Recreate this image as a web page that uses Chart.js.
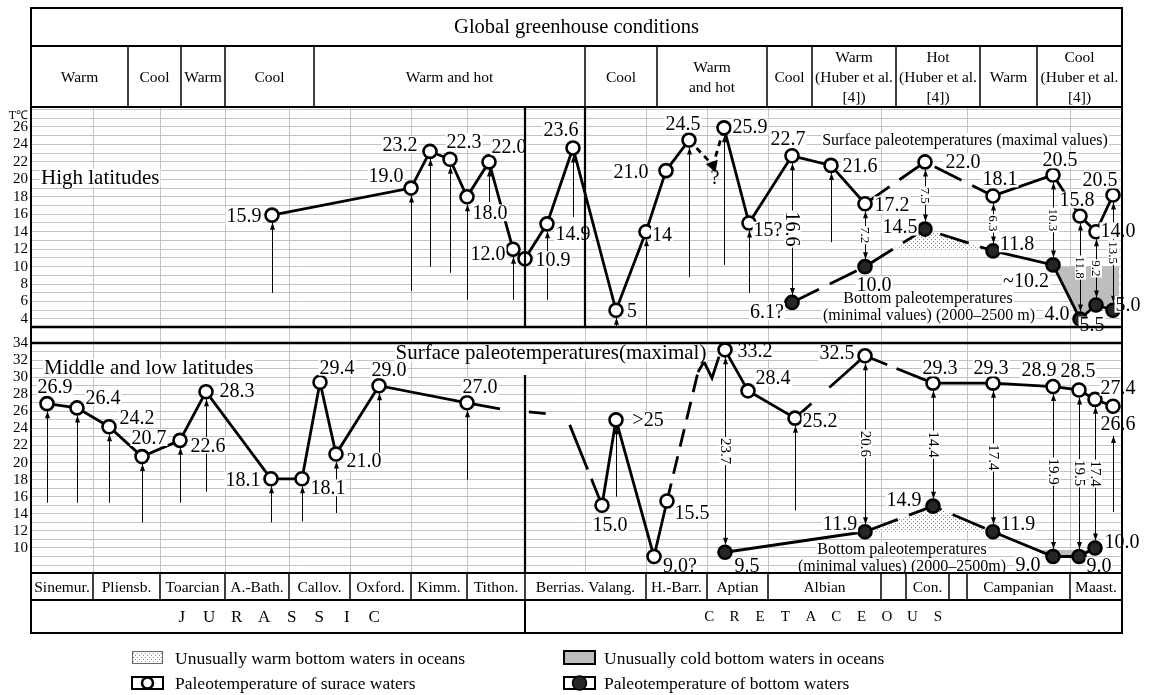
<!DOCTYPE html>
<html>
<head>
<meta charset="utf-8">
<script src="https://cdn.jsdelivr.net/npm/chart.js@4.4.1/dist/chart.umd.min.js"></script>
<style>
  html, body { margin: 0; padding: 0; background: #fff; }
  #wrap { width: 1153px; height: 695px; position: relative; }
</style>
</head>
<body>
<div id="wrap"><canvas id="chart"></canvas></div>
<script>
// positions along the stratigraphic column (left to right), shared by all series
var stageEdges = [31, 93, 160, 225, 289, 350, 411, 467, 525, 646, 707, 768, 881, 906, 949, 967, 1070, 1122];
var stageNames = ["Sinemur.", "Pliensb.", "Toarcian", "A.-Bath.", "Callov.", "Oxford.", "Kimm.", "Tithon.",
  "Berrias. Valang.", "H.-Barr.", "Aptian", "Albian", "", "Con.", "", "Campanian", "Maast."];
var gridX = [93, 160, 225, 289, 350, 411, 467, 585, 646, 707, 768, 881, 967, 1070];
var periodEdges = [31, 525, 1122];
var periodNames = ["JURASSIC", "CRETACEOUS"];
var condEdges = [31, 128, 181, 225, 314, 585, 657, 767, 812, 896, 980, 1037, 1122];
var condNames = ["Warm", "Cool", "Warm", "Cool", "Warm and hot", "Cool", "Warm\nand hot", "Cool",
  "Warm\n(Huber et al.\n[4])", "Hot\n(Huber et al.\n[4])", "Warm", "Cool\n(Huber et al.\n[4])"];

// high latitudes
var hiSurfX = [272, 411, 430, 450, 467, 489, 513, 525, 547, 573, 616, 646, 666, 689, 724, 749, 792, 831, 865, 925, 993, 1053, 1080, 1096, 1113];
var hiSurfT = [15.9, 19.0, 23.2, 22.3, 18.0, 22.0, 12.0, 10.9, 14.9, 23.6, 5, 14, 21.0, 24.5, 25.9, 15, 22.7, 21.6, 17.2, 22.0, 18.1, 20.5, 15.8, 14.0, 18.2];
var hiSurfLbl = ["15.9", "19.0", "23.2", "22.3", "18.0", "22.0", "12.0", "10.9", "14.9", "23.6", "5", "14", "21.0", "24.5", "25.9", "15?", "22.7", "21.6", "17.2", "22.0", "18.1", "20.5", "15.8", "14.0", "20.5"];
var hiBotX = [792, 865, 925, 993, 1053, 1080, 1096, 1113];
var hiBotT = [5.9, 10.0, 14.3, 11.8, 10.2, 4.0, 5.6, 5.0];
var hiBotLbl = ["6.1?", "10.0", "14.5", "11.8", "~10.2", "4.0", "5.5", "5.0"];
var hiQueryX = [689, 713, 724];
var hiQueryT = [24.5, 21.6, 25.9];
var hiDiffX = [792, 865, 925, 993, 1053, 1080, 1096, 1113];
var hiDiffLbl = ["16.6", "7.2", "7.5", "6.3", "10.3", "11.8", "9.2", "13.5"];
var hiRangeX = [272, 411, 430, 450, 467, 489, 513, 547, 573, 616, 646, 689, 724, 749, 831];
var hiRangeLo = [7.0, 7.2, 10.0, 9.3, 6.2, 17.4, 6.2, 6.2, 15.7, 3.1, 3.1, 8.8, 10.2, 7.0, 12.8];
var hiRangeHi = [15.9, 19.0, 23.2, 22.3, 18.0, 22.0, 12.0, 14.9, 23.6, 5, 14, 24.5, 25.9, 15, 21.6];
var hiWarmX = [893, 925, 993];
var hiWarmT = [12.0, 14.3, 11.8];
var hiColdX = [1055, 1080, 1096, 1113, 1119];
var hiColdT = [10.0, 4.0, 5.6, 5.0, 5.0];

// middle and low latitudes
var midSurfX = [47, 77, 109, 142, 180, 206, 271, 302, 320, 336, 379, 467, 602, 616, 654, 667, 725, 748, 795, 865, 933, 993, 1053, 1079, 1095, 1113];
var midSurfT = [26.9, 26.4, 24.2, 20.7, 22.6, 28.3, 18.1, 18.1, 29.4, 21.0, 29.0, 27.0, 15.0, 25, 9.0, 15.5, 33.2, 28.4, 25.2, 32.5, 29.3, 29.3, 28.9, 28.5, 27.4, 26.6];
var midSurfLbl = ["26.9", "26.4", "24.2", "20.7", "22.6", "28.3", "18.1", "18.1", "29.4", "21.0", "29.0", "27.0", "15.0", ">25", "9.0?", "15.5", "33.2", "28.4", "25.2", "32.5", "29.3", "29.3", "28.9", "28.5", "27.4", "26.6"];
var midBotX = [725, 865, 933, 993, 1053, 1079, 1095];
var midBotT = [9.5, 11.9, 14.9, 11.9, 9.0, 9.0, 10.0];
var midBotLbl = ["9.5", "11.9", "14.9", "11.9", "9.0", "9.0", "10.0"];
var midLinkAX = [467, 500, 548, 566, 602];
var midLinkAT = [27.0, 26.3, 25.7, 25.5, 15.0];
var midLinkBX = [667, 698, 704, 712, 719];
var midLinkBT = [15.5, 30.6, 31.8, 29.9, 32.4];
var midDiffX = [725, 865, 933, 993, 1053, 1079, 1095];
var midDiffLbl = ["23.7", "20.6", "14.4", "17.4", "19.9", "19.5", "17.4"];
var midRangeX = [47, 77, 109, 142, 180, 206, 271, 302, 336, 379, 467, 616, 795, 1113];
var midRangeLo = [15.3, 15.3, 15.3, 13.0, 15.3, 16.6, 13.0, 13.1, 14.1, 20.9, 18.0, 16.0, 14.4, 14.2];
var midRangeHi = [26.9, 26.4, 24.2, 20.7, 22.6, 28.3, 18.1, 18.1, 21.0, 29.0, 27.0, 25, 25.2, 24.0];
var midWarmX = [865, 933, 993];
var midWarmT = [11.9, 14.9, 11.9];
var midColdX = [1037, 1053, 1079, 1091];
var midColdT = [9.76, 9.0, 9.0, 9.76];

// line styles per segment: s solid, d dashed, n hidden, or an explicit dash array
var hiSurfSeg = ["s","s","s","s","s","s","s","s","s","s","s","s","s","n","s","s","s","s","d","d","s","s","s","s"];
var hiBotSeg = ["d","d","d","s","s","s","s"];
var midSurfSeg = ["s","s","s","s","s","s","s","s","s","s","s","n","s","s","s","n","s","s",[22,24,100],[24,10,100],"s","s","s","s","s"];
var midBotSeg = ["s","d","d","s","s","s"];
var midLinkASeg = ["s", [0,29,17,100], "n", [0,10,48,10,100]];
var midLinkBSeg = [[18,10], "s", "s", "s"];

// label offsets (pixels from the marker)
var hiSurfOff = [[-28,1],[-25,-12],[-30,-7],[14,-18],[23,16],[20,-15],[-25,5],[28,1],[26,10],[-12,-18],[16,0],[16,3],[-35,1],[-6,-16],[26,-1],[19,7],[-4,-17],[29,0],[27,1],[38,0],[7,-17],[7,-15],[-3,-16],[22,-1],[-13,-15]];
var hiBotOff = [[-25,9],[9,18],[-25,-2],[24,-7],[-27,16],[-23,-5],[-4,20],[15,-6]];
var midSurfOff = [[8,-17],[26,-10],[28,-9],[7,-19],[28,5],[31,-1],[-28,1],[26,9],[17,-15],[28,7],[10,-16],[13,-16],[8,19],[32,0],[26,9],[25,12],[30,1],[25,-13],[25,3],[-28,-3],[7,-15],[-2,-15],[-14,-17],[-1,-19],[23,-12],[5,18]];
var midBotOff = [[22,14],[-25,-8],[-29,-6],[25,-8],[-25,8],[20,9],[27,-6]];
var hiDiffSize = [20, 13, 13, 13, 13, 13, 13, 13];

var SERIF = "'Liberation Serif', 'Times New Roman', serif";
var INK = "#000";
var GRID = "#c4c4c4";
var hiFloor = 3.08;
var R_PT = 6.5;

var ctx = document.getElementById("chart").getContext("2d");
Chart.defaults.font.family = SERIF;
Chart.defaults.color = INK;

function pts(xs, ys) {
  return xs.map(function (x, i) { return { x: x, y: ys[i] }; });
}

function segOpts(codes, dash) {
  return {
    borderColor: function (c) { return codes[c.p0DataIndex] === "n" ? "rgba(0,0,0,0)" : INK; },
    borderDash: function (c) {
      var k = codes[c.p0DataIndex];
      if (Array.isArray(k)) return k;
      return k === "d" ? dash : [];
    }
  };
}

function markSet(xs, ys, axis, codes, dash, fillCol) {
  return {
    data: pts(xs, ys), yAxisID: axis, borderColor: INK, borderWidth: 2.8,
    pointRadius: R_PT, pointHoverRadius: R_PT, pointBorderWidth: 2.6, pointBorderColor: INK,
    pointBackgroundColor: fillCol, fill: false, tension: 0, order: 0,
    segment: segOpts(codes, dash)
  };
}

function linkSet(xs, ys, axis, codes) {
  return {
    data: pts(xs, ys), yAxisID: axis, borderColor: INK, borderWidth: 2.8,
    pointRadius: 0, fill: false, tension: 0, order: 1, segment: segOpts(codes, [16, 12])
  };
}

function bandSet(xs, ys, axis, base, bg) {
  return {
    data: pts(xs, ys), yAxisID: axis, borderColor: "rgba(0,0,0,0)", borderWidth: 0,
    pointRadius: 0, fill: { value: base }, backgroundColor: bg, tension: 0, order: 2
  };
}

function stipple() {
  var cv = document.createElement("canvas");
  cv.width = 4; cv.height = 4;
  var g = cv.getContext("2d");
  g.fillStyle = "#fff"; g.fillRect(0, 0, 4, 4);
  g.fillStyle = "#8a8a8a"; g.fillRect(1, 1, 1, 1); g.fillRect(3, 3, 1, 1);
  return ctx.createPattern(cv, "repeat");
}
var dots = stipple();
var COLD = "#bdbdbd";

var queryLink = linkSet(hiQueryX, hiQueryT, "yHi", ["x", "x"]);
queryLink.segment = { borderDash: function () { return [6, 5]; } };
queryLink.pointRadius = [0, 4.5, 0];
queryLink.pointStyle = "triangle";
queryLink.pointRotation = [0, 160, 0];
queryLink.pointBackgroundColor = INK;
queryLink.pointBorderColor = INK;

function text(c, s, x, y, size, align, bg, rot) {
  c.save();
  c.font = size + "px " + SERIF;
  c.textAlign = align || "center";
  c.textBaseline = "middle";
  c.translate(x, y);
  if (rot) c.rotate(rot);
  var w = c.measureText(s).width;
  if (bg) {
    var x0 = align === "left" ? 0 : (align === "right" ? -w : -w / 2);
    c.fillStyle = "#fff";
    c.fillRect(x0 - 1, -size * 0.42, w + 2, size * 0.84);
  }
  c.fillStyle = INK;
  c.fillText(s, 0, 1);
  c.restore();
}

function head(c, x, y, dir) {
  c.beginPath();
  c.moveTo(x, y);
  c.lineTo(x - 2.5, y - dir * 7);
  c.lineTo(x + 2.5, y - dir * 7);
  c.closePath();
  c.fill();
}

function valAt(xs, ys, x) { return ys[xs.indexOf(x)]; }

function drawRanges(c, X, Y, xs, lo, hi) {
  c.save();
  c.strokeStyle = INK; c.fillStyle = INK; c.lineWidth = 1;
  for (var i = 0; i < xs.length; i++) {
    var px = Math.round(X.getPixelForValue(xs[i])) + 0.5;
    var yt = Y.getPixelForValue(hi[i]) + R_PT + 1;
    var yb = Y.getPixelForValue(lo[i]);
    c.beginPath(); c.moveTo(px, yb); c.lineTo(px, yt); c.stroke();
    head(c, px, yt, -1);
  }
  c.restore();
}

function drawDiffs(c, X, Y, xs, sx, st, bx, bt, lbl, size) {
  c.save();
  c.strokeStyle = INK; c.fillStyle = INK; c.lineWidth = 1;
  for (var i = 0; i < xs.length; i++) {
    var px = Math.round(X.getPixelForValue(xs[i])) + 0.5;
    var yt = Y.getPixelForValue(valAt(sx, st, xs[i])) + R_PT + 1;
    var yb = Y.getPixelForValue(valAt(bx, bt, xs[i])) - R_PT - 1;
    c.beginPath(); c.moveTo(px, yt); c.lineTo(px, yb); c.stroke();
    head(c, px, yt, -1);
    head(c, px, yb, 1);
    var sz = Array.isArray(size) ? size[i] : size;
    text(c, lbl[i], px, (yt + yb) / 2, sz, "center", true, Math.PI / 2);
  }
  c.restore();
}

function pointLabels(c, X, Y, xs, ys, lbl, off, size) {
  for (var i = 0; i < xs.length; i++) {
    var px = X.getPixelForValue(xs[i]);
    var py = Y.getPixelForValue(ys[i]);
    text(c, lbl[i], px + off[i][0], py + off[i][1], size, "center", true);
  }
}

function spaced(c, s, cx, y, size, step) {
  var n = s.length;
  for (var i = 0; i < n; i++) {
    text(c, s[i], cx + (i - (n - 1) / 2) * step, y, size, "center", false);
  }
}

function hline(c, x0, x1, y, w) {
  c.lineWidth = w; c.beginPath(); c.moveTo(x0, y); c.lineTo(x1, y); c.stroke();
}
function vline(c, x, y0, y1, w) {
  c.lineWidth = w; c.beginPath(); c.moveTo(x, y0); c.lineTo(x, y1); c.stroke();
}

var figure = {
  id: "figure",
  afterDatasetsDraw: function (chart) {
    var c = chart.ctx, X = chart.scales.x, H = chart.scales.yHi, M = chart.scales.yMid;
    drawRanges(c, X, H, hiRangeX, hiRangeLo, hiRangeHi);
    drawRanges(c, X, M, midRangeX, midRangeLo, midRangeHi);
    drawDiffs(c, X, H, hiDiffX, hiSurfX, hiSurfT, hiBotX, hiBotT, hiDiffLbl, hiDiffSize);
    drawDiffs(c, X, M, midDiffX, midSurfX, midSurfT, midBotX, midBotT, midDiffLbl, 15);

    pointLabels(c, X, H, hiSurfX, hiSurfT, hiSurfLbl, hiSurfOff, 20);
    pointLabels(c, X, H, hiBotX, hiBotT, hiBotLbl, hiBotOff, 20);
    pointLabels(c, X, M, midSurfX, midSurfT, midSurfLbl, midSurfOff, 20);
    pointLabels(c, X, M, midBotX, midBotT, midBotLbl, midBotOff, 20);

    text(c, "?", X.getPixelForValue(715), H.getPixelForValue(20.2), 20, "center", false);
    text(c, "High latitudes", X.getPixelForValue(41), H.getPixelForValue(20.2), 21, "left", true);
    text(c, "Surface paleotemperatures (maximal values)", X.getPixelForValue(965), H.getPixelForValue(24.5), 16, "center", true);
    text(c, "Bottom paleotemperatures", X.getPixelForValue(928), H.getPixelForValue(6.4), 16, "center", true);
    text(c, "(minimal values) (2000\u20132500 m)", X.getPixelForValue(929), H.getPixelForValue(4.45), 16, "center", true);
    text(c, "Middle and low latitudes", X.getPixelForValue(44), M.getPixelForValue(31.1), 21, "left", true);
    text(c, "Surface paleotemperatures(maximal)", X.getPixelForValue(551), M.getPixelForValue(32.85), 21, "center", true);
    text(c, "Bottom paleotemperatures", X.getPixelForValue(902), M.getPixelForValue(9.9), 16, "center", true);
    text(c, "(minimal values) (2000\u20132500m)", X.getPixelForValue(902), M.getPixelForValue(7.9), 16, "center", true);
  },
  afterDraw: function (chart) {
    var c = chart.ctx, a = chart.chartArea, X = chart.scales.x, H = chart.scales.yHi, M = chart.scales.yMid;
    var L = a.left, R = a.right;
    var tTop = a.top - 99, cTop = a.top - 61;
    var hiBot = Math.round(H.getPixelForValue(hiFloor));
    var midTop = Math.round(M.top);
    var sTop = a.bottom, sBot = a.bottom + 27, eBot = a.bottom + 60;
    var i, x0, x1;
    c.save();
    c.strokeStyle = INK;
    c.fillStyle = "#fff";
    c.fillRect(L, tTop, R - L, a.top - tTop);
    c.fillRect(L, sTop, R - L, eBot - sTop);

    // header
    text(c, "Global greenhouse conditions", (L + R) / 2, (tTop + cTop) / 2, 20.5, "center", false);
    for (i = 0; i < condNames.length; i++) {
      x0 = X.getPixelForValue(condEdges[i]); x1 = X.getPixelForValue(condEdges[i + 1]);
      var lines = condNames[i].split("\n");
      for (var k = 0; k < lines.length; k++) {
        text(c, lines[k], (x0 + x1) / 2, (cTop + a.top) / 2 + (k - (lines.length - 1) / 2) * 20, 15.5, "center", false);
      }
      if (i > 0) vline(c, x0, cTop, a.top, 1.5);
    }
    // stage row and period row
    for (i = 0; i < stageNames.length; i++) {
      x0 = X.getPixelForValue(stageEdges[i]); x1 = X.getPixelForValue(stageEdges[i + 1]);
      text(c, stageNames[i], (x0 + x1) / 2, (sTop + sBot) / 2, 15.5, "center", false);
      if (i > 0) vline(c, x0, sTop, sBot, 1.5);
    }
    var steps = [27.5, 25.4], sizes = [17, 15];
    for (i = 0; i < periodNames.length; i++) {
      x0 = X.getPixelForValue(periodEdges[i]); x1 = X.getPixelForValue(periodEdges[i + 1]);
      spaced(c, periodNames[i], (x0 + x1) / 2, (sBot + eBot) / 2, sizes[i], steps[i]);
      if (i > 0) vline(c, x0, sBot, eBot, 2);
    }
    // panel borders
    var xJK = X.getPixelForValue(525), xBV = X.getPixelForValue(585);
    vline(c, xJK, a.top, hiBot, 2.2);
    vline(c, xBV, a.top, hiBot, 2.2);
    vline(c, xJK, M.getPixelForValue(30.25), sTop, 2.2);
    hline(c, L, R, cTop, 2);
    hline(c, L, R, a.top, 2);
    hline(c, L, R, hiBot, 2.4);
    hline(c, L, R, midTop, 2.4);
    hline(c, L, R, sTop, 2);
    hline(c, L, R, sBot, 2);
    c.lineWidth = 2;
    c.strokeRect(L, tTop, R - L, eBot - tTop);

    // unit label
    text(c, "T\u2103", L - 3, H.getPixelForValue(27.4), 12, "right", false);

    // legend
    var ly1 = eBot + 25, ly2 = eBot + 50;
    c.fillStyle = dots; c.fillRect(132, ly1 - 7, 31, 13);
    c.strokeStyle = "#666"; c.lineWidth = 1; c.strokeRect(132.5, ly1 - 6.5, 30, 12);
    text(c, "Unusually warm bottom waters in oceans", 175, ly1, 17.5, "left", false);
    c.fillStyle = COLD; c.fillRect(564, ly1 - 7, 31, 13);
    c.strokeStyle = INK; c.lineWidth = 2; c.strokeRect(564, ly1 - 7, 31, 13);
    text(c, "Unusually cold bottom waters in oceans", 604, ly1, 17.5, "left", false);
    c.strokeRect(132, ly2 - 6, 31, 12);
    c.beginPath(); c.arc(147.5, ly2, 5.5, 0, Math.PI * 2);
    c.fillStyle = "#fff"; c.fill(); c.lineWidth = 2.6; c.stroke();
    text(c, "Paleotemperature of surace waters", 175, ly2, 17.5, "left", false);
    c.lineWidth = 2; c.strokeRect(564, ly2 - 6, 31, 12);
    c.beginPath(); c.arc(579.5, ly2, 7, 0, Math.PI * 2);
    c.fillStyle = "#262626"; c.fill(); c.lineWidth = 1.5; c.stroke();
    text(c, "Paleotemperature of bottom waters", 604, ly2, 17.5, "left", false);
    c.restore();
  }
};

function tickList(from, to) {
  var out = [];
  for (var v = from; v <= to; v++) out.push({ value: v });
  return out;
}

var chart = new Chart(ctx, {
  type: "line",
  data: {
    datasets: [
      markSet(hiSurfX, hiSurfT, "yHi", hiSurfSeg, [30, 12], "#fff"),
      markSet(hiBotX, hiBotT, "yHi", hiBotSeg, [30, 12], "#262626"),
      markSet(midSurfX, midSurfT, "yMid", midSurfSeg, [30, 12], "#fff"),
      markSet(midBotX, midBotT, "yMid", midBotSeg, [35, 12], "#262626"),
      queryLink,
      linkSet(midLinkAX, midLinkAT, "yMid", midLinkASeg),
      linkSet(midLinkBX, midLinkBT, "yMid", midLinkBSeg),
      bandSet(hiWarmX, hiWarmT, "yHi", 11.9, dots),
      bandSet(hiColdX, hiColdT, "yHi", 10.0, COLD),
      bandSet(midWarmX, midWarmT, "yMid", 11.9, dots),
      bandSet(midColdX, midColdT, "yMid", 9.76, COLD)
    ]
  },
  options: {
    responsive: true,
    maintainAspectRatio: false,
    animation: false,
    layout: { padding: { top: 107, bottom: 122, left: 0, right: 31 } },
    plugins: { legend: { display: false }, tooltip: { enabled: false } },
    scales: {
      x: {
        type: "linear", min: 31, max: 1122,
        afterBuildTicks: function (s) { s.ticks = gridX.map(function (v) { return { value: v }; }); },
        afterFit: function (s) { s.height = 0; },
        ticks: { display: false },
        grid: { color: GRID, lineWidth: 1, drawTicks: false },
        border: { display: false }
      },
      yMid: {
        type: "linear", position: "left", stack: "temps", stackWeight: 230,
        min: 7.07, max: 34,
        afterBuildTicks: function (s) { s.ticks = tickList(8, 34); },
        afterFit: function (s) { s.width = 31; },
        ticks: {
          autoSkip: false, padding: 3, font: { size: 15 }, color: INK,
          callback: function (v) { return v % 2 === 0 && v >= 10 ? String(v) : ""; }
        },
        grid: { color: GRID, drawTicks: false },
        border: { display: false }
      },
      yHi: {
        type: "linear", position: "left", stack: "temps", stackWeight: 236,
        min: 1.25, max: 28.29,
        afterBuildTicks: function (s) { s.ticks = tickList(4, 28); },
        afterFit: function (s) { s.width = 31; },
        ticks: {
          autoSkip: false, padding: 3, font: { size: 15 }, color: INK,
          callback: function (v) { return v % 2 === 0 && v <= 26 ? String(v) : ""; }
        },
        grid: { color: GRID, drawTicks: false },
        border: { display: false }
      }
    }
  },
  plugins: [figure]
});
</script>
</body>
</html>
